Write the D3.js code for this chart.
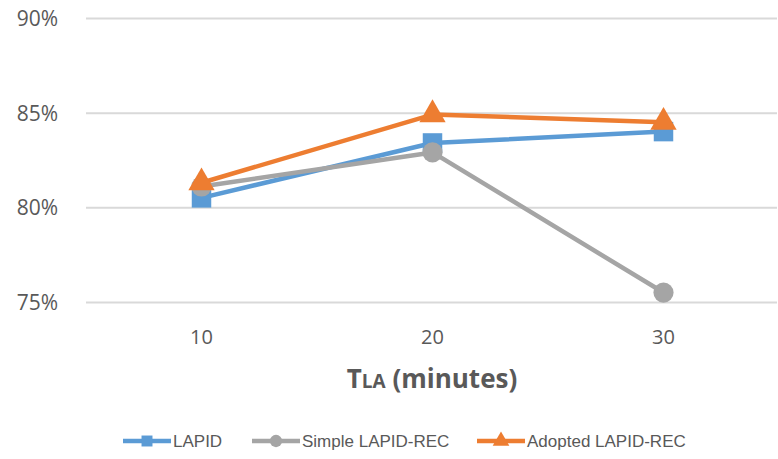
<!DOCTYPE html>
<html lang="en">
<head>
    <meta charset="UTF-8">
    <title>TLA chart</title>
    <script src="https://cdn.jsdelivr.net/npm/d3@7/dist/d3.min.js"></script>
    <style>
        html, body {
            margin: 0;
            padding: 0;
            background: #fff;
        }
        svg { display: block; }
    </style>
</head>
<body>
<div id="chart"></div>
<script>
    // data
    var categories = [10, 20, 30];
    var yTicks = [75, 80, 85, 90];
    var lapid = [80.5, 83.4, 84.0];
    var simpleRec = [81.1, 82.9, 75.5];
    var adoptedRec = [81.3, 84.9, 84.5];
    var seriesNames = ["LAPID", "Simple LAPID-REC", "Adopted LAPID-REC"];

    var W = 778, H = 459;
    var svg = d3.select("#chart").append("svg")
        .attr("width", W)
        .attr("height", H);

    var x = d3.scaleBand().domain(categories).range([86, 779]).padding(0);
    var y = d3.scaleLinear().domain([75, 90]).range([302, 18]);

    // gridlines + y labels
    var yAxis = d3.axisLeft(y).tickValues(yTicks).tickSize(-(777 - 86))
        .tickFormat(function (d) { return d + "%"; });
    var gy = svg.append("g").attr("transform", "translate(86,0)").call(yAxis);
    gy.select(".domain").remove();
    gy.selectAll(".tick line").attr("stroke", "#d9d9d9").attr("stroke-width", 2);
    gy.selectAll(".tick text")
        .attr("x", -28)
        .attr("dy", "0.35em")
        .attr("fill", "#595959")
        .style("font-family", "'Open Sans', sans-serif")
        .style("font-size", "21px");

    // x labels
    var xAxis = d3.axisBottom(x).tickSize(0);
    var gx = svg.append("g").attr("transform", "translate(0,302)").call(xAxis);
    gx.select(".domain").remove();
    gx.selectAll(".tick text")
        .attr("y", 35)
        .attr("dy", "0.35em")
        .attr("fill", "#595959")
        .style("font-family", "'Open Sans', sans-serif")
        .style("font-size", "20px");

    // axis title
    var title = svg.append("text")
        .attr("x", 432)
        .attr("y", 388)
        .attr("text-anchor", "middle")
        .attr("fill", "#595959")
        .style("font-family", "'Open Sans', sans-serif")
        .style("font-weight", "bold")
        .style("font-size", "26px");
    title.append("tspan").text("T");
    title.append("tspan").style("font-size", "19px").text("LA");
    title.append("tspan").text(" (minutes)");

    var colors = ["#5b9bd5", "#a5a5a5", "#ed7d31"];
    var symbols = [d3.symbolSquare, d3.symbolCircle, d3.symbolTriangle];
    var sizes = [380, 320, 300];
    var allSeries = [lapid, simpleRec, adoptedRec];

    var line = d3.line()
        .x(function (d, i) { return x(categories[i]) + x.bandwidth() / 2; })
        .y(function (d) { return y(d); });

    allSeries.forEach(function (vals, s) {
        var g = svg.append("g");
        g.append("path")
            .attr("d", line(vals))
            .attr("fill", "none")
            .attr("stroke", colors[s])
            .attr("stroke-width", 4.5)
            .attr("stroke-linejoin", "round")
            .attr("stroke-linecap", "round");
        g.selectAll("path.mk").data(vals).enter().append("path")
            .attr("class", "mk")
            .attr("d", d3.symbol().type(symbols[s]).size(sizes[s]))
            .attr("transform", function (d, i) {
                return "translate(" + (x(categories[i]) + x.bandwidth() / 2) + "," + y(d) + ")";
            })
            .attr("fill", colors[s]);
    });

    // legend
    var legendX = [123, 252, 477];
    var leg = svg.append("g").attr("transform", "translate(0,441)");
    seriesNames.forEach(function (name, s) {
        var lg = leg.append("g").attr("transform", "translate(" + legendX[s] + ",0)");
        lg.append("line")
            .attr("x1", 0).attr("x2", 48)
            .attr("stroke", colors[s])
            .attr("stroke-width", 4.5);
        lg.append("path")
            .attr("d", d3.symbol().type(symbols[s]).size(120))
            .attr("transform", "translate(24,0)")
            .attr("fill", colors[s]);
        lg.append("text")
            .attr("x", 50)
            .attr("dy", "0.35em")
            .attr("fill", "#595959")
            .style("font-family", "'Liberation Sans Narrow', 'Liberation Sans', sans-serif")
            .style("font-size", "17px")
            .text(name);
    });
</script>
</body>
</html>
